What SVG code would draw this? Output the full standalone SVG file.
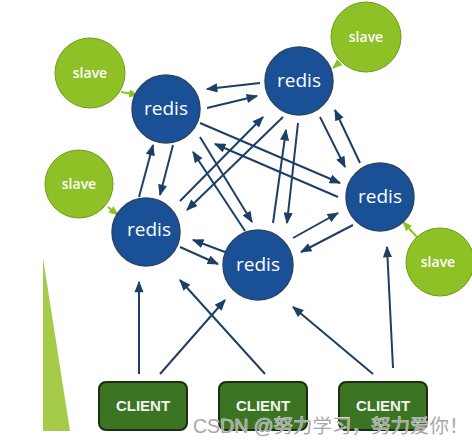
<svg xmlns="http://www.w3.org/2000/svg" width="472" height="446" viewBox="0 0 472 446">
<defs>
<marker id="ah" viewBox="0 0 10 8" refX="9" refY="4" markerWidth="6" markerHeight="4.6" orient="auto" markerUnits="strokeWidth">
<path d="M0,0 L10,4 L0,8 Z" fill="#1d3f66"/>
</marker>
<marker id="gh" viewBox="0 0 10 8" refX="9" refY="4" markerWidth="5" markerHeight="4" orient="auto" markerUnits="strokeWidth">
<path d="M0,0 L10,4 L0,8 Z" fill="#8cc027"/>
</marker>
</defs>
<style>
.redis{fill:#1a5096;stroke:#2b4565;stroke-width:1.5}
.slave{fill:#8dc125;stroke:#6e9c1c;stroke-width:1}
.client{fill:#3b7423;stroke:#1d2e12;stroke-width:2}
.rt{font-family:"Open Sans","DejaVu Sans",sans-serif;font-size:19px;font-weight:500;fill:#ffffff;text-anchor:middle}
.st{font-family:"Open Sans","DejaVu Sans",sans-serif;font-size:14px;font-weight:600;fill:#ffffff;text-anchor:middle}
.ct{font-family:"Liberation Sans",Arial,sans-serif;font-weight:bold;font-size:15px;fill:#f2f2f2;text-anchor:middle}
.e{stroke:#1d3f66;stroke-width:2;fill:none;marker-end:url(#ah)}
.g{stroke:#8cc027;stroke-width:2;fill:none;marker-end:url(#gh)}
</style>
<rect width="472" height="446" fill="#ffffff"/>
<polygon points="43,258 43,431 70,431" fill="#a5cb48"/>

<g id="connectors">
<line class="e" x1="260" y1="83" x2="207" y2="89"/>
<line class="e" x1="207" y1="108" x2="257" y2="96"/>
<line class="e" x1="139" y1="197" x2="153" y2="145"/>
<line class="e" x1="173" y1="145" x2="160" y2="195"/>
<line class="e" x1="200" y1="123" x2="340" y2="183"/>
<line class="e" x1="338" y1="197" x2="215" y2="144"/>
<line class="e" x1="200" y1="137" x2="252" y2="222"/>
<line class="e" x1="245" y1="231" x2="193" y2="152"/>
<line class="e" x1="180" y1="201" x2="263" y2="117"/>
<line class="e" x1="283" y1="117" x2="187" y2="210"/>
<line class="e" x1="273" y1="223" x2="286" y2="130"/>
<line class="e" x1="298" y1="123" x2="287" y2="223"/>
<line class="e" x1="320" y1="117" x2="345" y2="167"/>
<line class="e" x1="360" y1="163" x2="335" y2="110"/>
<line class="e" x1="293" y1="238" x2="338" y2="213"/>
<line class="e" x1="353" y1="225" x2="301" y2="252"/>
<line class="e" x1="225" y1="252" x2="193" y2="240"/>
<line class="e" x1="180" y1="247" x2="218" y2="264"/>
<line class="e" x1="139" y1="374" x2="139" y2="282"/>
<line class="e" x1="160" y1="374" x2="225" y2="300"/>
<line class="e" x1="265" y1="374" x2="180" y2="280"/>
<line class="e" x1="373" y1="374" x2="293" y2="307"/>
<line class="e" x1="393" y1="368" x2="387" y2="247"/>
<line class="g" x1="121" y1="92" x2="138" y2="95"/>
<line class="g" x1="108" y1="207" x2="118" y2="215"/>
<line class="g" x1="340" y1="62" x2="333" y2="68"/>
<line class="g" x1="417" y1="237" x2="403" y2="222"/>
</g>

<g id="slave1"><circle class="slave" cx="90" cy="73" r="35"/><text class="st" x="90" y="78">slave</text></g>
<g id="slave2"><circle class="slave" cx="79" cy="184" r="34"/><text class="st" x="79" y="189">slave</text></g>
<g id="slave3"><circle class="slave" cx="366" cy="37" r="35"/><text class="st" x="366" y="42">slave</text></g>
<g id="slave4"><circle class="slave" cx="440" cy="262" r="34"/><text class="st" x="438" y="267">slave</text></g>

<g id="redis1"><circle class="redis" cx="166" cy="109" r="34"/><text class="rt" x="166" y="115">redis</text></g>
<g id="redis2"><circle class="redis" cx="299" cy="81" r="34"/><text class="rt" x="299" y="87">redis</text></g>
<g id="redis3"><circle class="redis" cx="146" cy="232" r="34"/><text class="rt" x="149" y="236">redis</text></g>
<g id="redis4"><circle class="redis" cx="258" cy="265" r="35"/><text class="rt" x="258" y="271">redis</text></g>
<g id="redis5"><circle class="redis" cx="380" cy="197" r="34"/><text class="rt" x="380" y="203">redis</text></g>

<g id="client1"><rect class="client" x="99" y="382" width="88" height="48" rx="7"/><text class="ct" x="143" y="411">CLIENT</text></g>
<g id="client2"><rect class="client" x="219" y="382" width="88" height="48" rx="7"/><text class="ct" x="263" y="411">CLIENT</text></g>
<g id="client3"><rect class="client" x="339" y="382" width="88" height="48" rx="7"/><text class="ct" x="383" y="411">CLIENT</text></g>

<text x="193" y="433" font-family="'Liberation Sans','Noto Sans CJK SC',sans-serif" font-size="19.5" fill="#a8a8a8" stroke="#ffffff" stroke-width="0.6" paint-order="stroke">CSDN @努力学习，努力爱你！</text>
</svg>
